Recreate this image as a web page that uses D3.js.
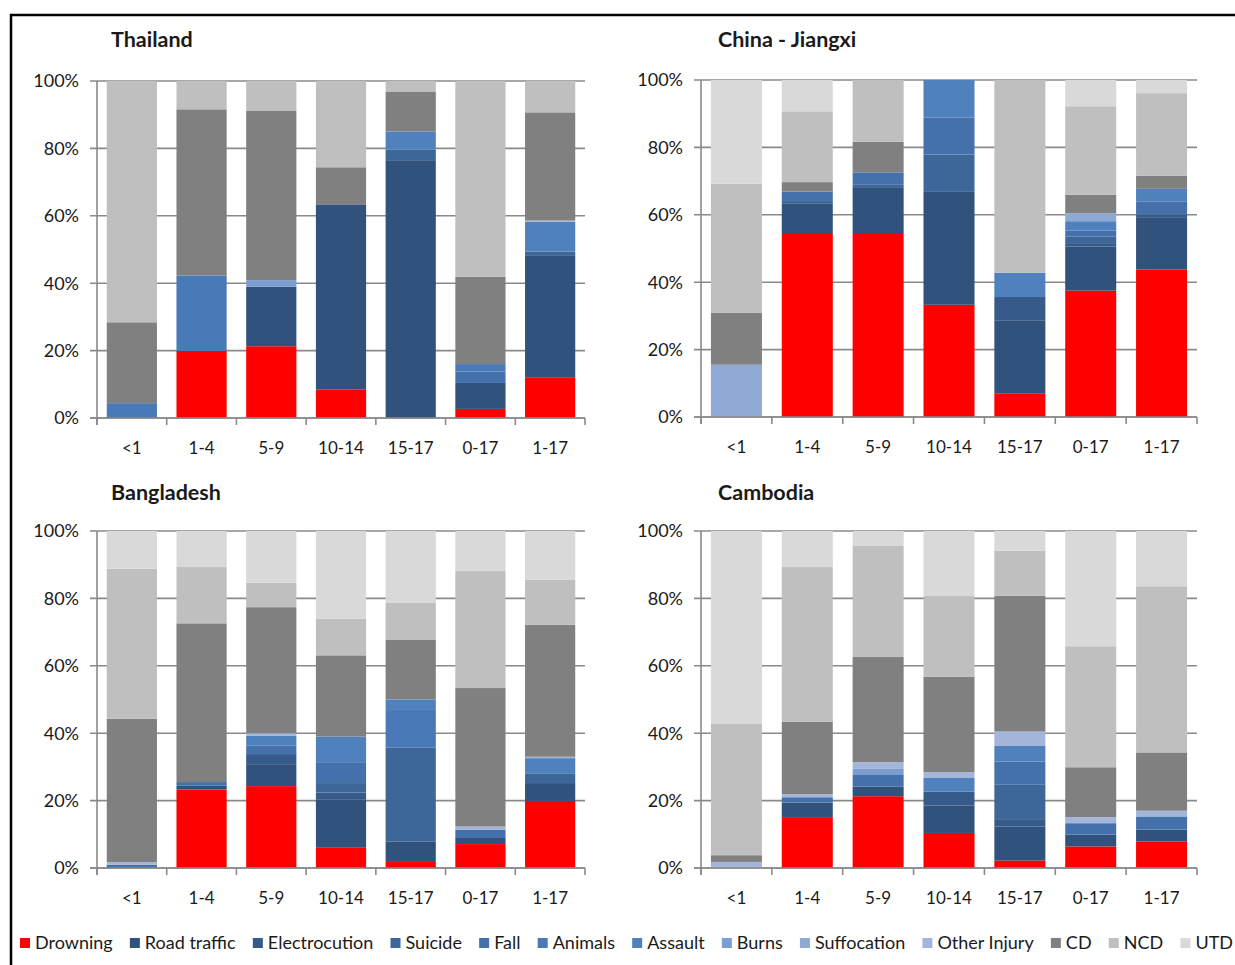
<!DOCTYPE html>
<html><head><meta charset="utf-8">
<script src="https://cdn.jsdelivr.net/npm/d3@7"></script>
<style>
body{margin:0;background:#fff}
svg{display:block}
text{font-family:Lato,"Open Sans",sans-serif;fill:#1a1a1a}
</style>
</head><body>
<svg id="chart" width="1235" height="965"></svg>
<script>
// ---------- data ----------
const categories = ["<1","1-4","5-9","10-14","15-17","0-17","1-17"];
const seriesNames = ["Drowning","Road traffic","Electrocution","Suicide","Fall","Animals","Assault","Burns","Suffocation","Other Injury","CD","NCD","UTD"];
const seriesColors = ["#FF0000","#31527C","#365A89","#3D6699","#4471AC","#4A79B7","#4F81BD","#7C9DD0","#8EA9D3","#A3B6DA","#808080","#BFBFBF","#D9D9D9"];
const yTickValues = [0,0.2,0.4,0.6,0.8,1.0];
const panelTitles = ["Thailand","China - Jiangxi","Bangladesh","Cambodia"];

// segment shares (%) per category, in seriesNames order
const thailand = [
  [0,0,0,0,0,4.4,0,0,0,0,24.0,71.6,0],
  [19.9,0,0,0,0,22.4,0,0,0,0,49.3,8.4,0],
  [21.3,17.7,0,0,0,0,0,1.9,0,0,50.2,8.9,0],
  [8.4,55.0,0,0,0,0,0,0,0,0,11.0,25.6,0],
  [0,76.5,0,3.2,0,0,5.3,0,0,0,11.9,3.1,0],
  [2.7,7.7,0,0,3.4,2.2,0,0,0,0,25.9,58.1,0],
  [12.1,36.0,0,1.3,0,0,8.8,0,0,0.4,32.1,9.3,0]
];
const chinaJiangxi = [
  [0,0,0,0,0,0,0,0,15.5,0,15.4,38.3,30.8],
  [54.3,9.1,0.4,0,3.1,0,0,0,0,0,2.8,21.0,9.3],
  [54.3,13.9,0,0.7,3.7,0,0,0,0,0,9.1,18.3,0],
  [33.3,33.5,0,11.1,11.0,0,11.1,0,0,0,0,0,0],
  [6.9,21.8,6.9,0,0,0,7.2,0,0,0,0,57.2,0],
  [37.5,13.1,1.0,2.0,1.7,0,2.8,0,2.4,0,5.4,26.3,7.8],
  [43.8,15.5,0.8,0,3.9,0,3.7,0,0,0,3.9,24.5,3.9]
];
const bangladesh = [
  [0,0,0,0,1.0,0,0,0,0,0.7,42.6,44.5,11.2],
  [23.3,1.1,0,0,1.1,0,0,0,0,0,47.1,16.7,10.7],
  [24.3,6.3,3.2,0,2.6,0,2.8,0,0,0.8,37.4,7.2,15.4],
  [6.0,14.4,2.0,2.8,6.2,0,7.6,0,0,0,24.1,10.9,26.0],
  [1.8,6.1,0,27.9,0,11.1,3.1,0,0,0,17.8,11.0,21.2],
  [7.1,1.8,0,0,2.5,0,0,0,0,0.9,41.1,34.7,11.9],
  [19.9,5.3,0,2.9,0,0,4.5,0,0,0.4,39.2,13.4,14.4]
];
const cambodia = [
  [0,0,0,0,0,0,0,0,0,1.8,2.0,39.1,57.1],
  [15.1,4.3,0,0,1.6,0,0,0,0,0.9,21.5,45.9,10.7],
  [21.3,2.9,0,0,3.4,0,0,1.8,0,2.0,31.2,33.1,4.3],
  [10.4,8.1,4.2,0,0,0,4.0,0,0,1.7,28.4,23.9,19.3],
  [2.2,10.1,2.2,10.2,6.9,0,4.6,0,0,4.3,40.3,13.3,5.9],
  [6.4,3.5,0,0,3.4,0,0,0,0,1.8,14.8,35.9,34.2],
  [7.9,3.5,0,0,3.9,0,0,0,0,1.7,17.3,49.3,16.4]
];

// ---------- drawing ----------
const svg = d3.select("#chart");
const gridColor = "#8a8a8a";

// outer frame
svg.append("rect").attr("x",11).attr("y",15).attr("width",1240).attr("height",970)
  .attr("fill","none").attr("stroke","#000").attr("stroke-width",2.5);

const panels = [
  {data: thailand,     title: panelTitles[0], x0: 97,  x1: 585,  top: 81,  bottom: 418, tx: 111, ty: 47},
  {data: chinaJiangxi, title: panelTitles[1], x0: 701, x1: 1197, top: 80,  bottom: 417, tx: 718, ty: 47},
  {data: bangladesh,   title: panelTitles[2], x0: 97,  x1: 585,  top: 531, bottom: 868, tx: 111, ty: 500},
  {data: cambodia,     title: panelTitles[3], x0: 701, x1: 1197, top: 531, bottom: 868, tx: 718, ty: 500}
];

const stack = d3.stack().keys(seriesNames);

panels.forEach(p => {
  const g = svg.append("g");
  const x = d3.scaleBand().domain(categories).range([p.x0, p.x1]).paddingInner(0.28).paddingOuter(0.14);
  const y = d3.scaleLinear().domain([0, 1]).range([p.bottom, p.top]);

  // gridlines (with outward tick)
  g.selectAll("line.grid").data(yTickValues).join("line")
    .attr("x1", p.x0 - 7).attr("x2", p.x1)
    .attr("y1", d => y(d)).attr("y2", d => y(d))
    .attr("stroke", gridColor).attr("stroke-width", 1.6);

  // y labels
  g.selectAll("text.ylab").data(yTickValues).join("text")
    .attr("x", p.x0 - 18).attr("y", d => y(d)).attr("dy", "0.35em")
    .attr("text-anchor", "end").attr("font-size", 18)
    .text(d => d3.format(".0%")(d));

  // stacked bars
  const rows = p.data.map((vals, i) => {
    const o = {cat: categories[i]};
    seriesNames.forEach((s, j) => o[s] = vals[j] / 100);
    return o;
  });
  const layers = stack(rows);
  layers.forEach((layer, li) => {
    g.selectAll(null).data(layer.filter(d => d[1] - d[0] > 0)).join("rect")
      .attr("x", d => x(d.data.cat))
      .attr("width", x.bandwidth())
      .attr("y", d => y(d[1]))
      .attr("height", d => y(d[0]) - y(d[1]))
      .attr("fill", seriesColors[li]);
  });

  // axes
  g.append("line").attr("x1", p.x0).attr("x2", p.x0).attr("y1", p.top).attr("y2", p.bottom + 7)
    .attr("stroke", gridColor).attr("stroke-width", 1.6);
  g.append("line").attr("x1", p.x0 - 7).attr("x2", p.x1).attr("y1", p.bottom).attr("y2", p.bottom)
    .attr("stroke", gridColor).attr("stroke-width", 1.6);
  const boundaries = categories.map(c => x(c) - x.step() * x.paddingInner() / 2).concat([p.x1]);
  g.selectAll("line.xt").data(boundaries).join("line")
    .attr("x1", d => d).attr("x2", d => d).attr("y1", p.bottom).attr("y2", p.bottom + 7)
    .attr("stroke", gridColor).attr("stroke-width", 1.6);

  // category labels
  g.selectAll("text.xlab").data(categories).join("text")
    .attr("x", d => x(d) + x.bandwidth() / 2).attr("y", p.bottom + 30)
    .attr("dy", "0.35em").attr("text-anchor", "middle").attr("font-size", 17)
    .text(d => d);

  // title
  g.append("text").attr("x", p.tx).attr("y", p.ty)
    .attr("font-size", 21.5).attr("font-weight", "bold").text(p.title);
});

// ---------- legend ----------
const legend = svg.append("g");
const legendY = 943;
const items = legend.selectAll("g").data(seriesNames).join("g");
items.append("rect").attr("width", 10).attr("height", 10).attr("y", legendY - 5)
  .attr("fill", (d, i) => seriesColors[i]);
items.append("text").attr("x", 15).attr("y", legendY).attr("dy", "0.35em")
  .attr("font-size", 18).text(d => d);
const widths = [];
items.each(function() { widths.push(15 + d3.select(this).select("text").node().getComputedTextLength()); });
const startX = 20, endX = 1233;
const total = d3.sum(widths);
const gap = (endX - startX - total) / (seriesNames.length - 1);
let cx = startX;
items.each(function(d, i) {
  d3.select(this).attr("transform", `translate(${cx},0)`);
  cx += widths[i] + gap;
});
</script>
</body></html>
